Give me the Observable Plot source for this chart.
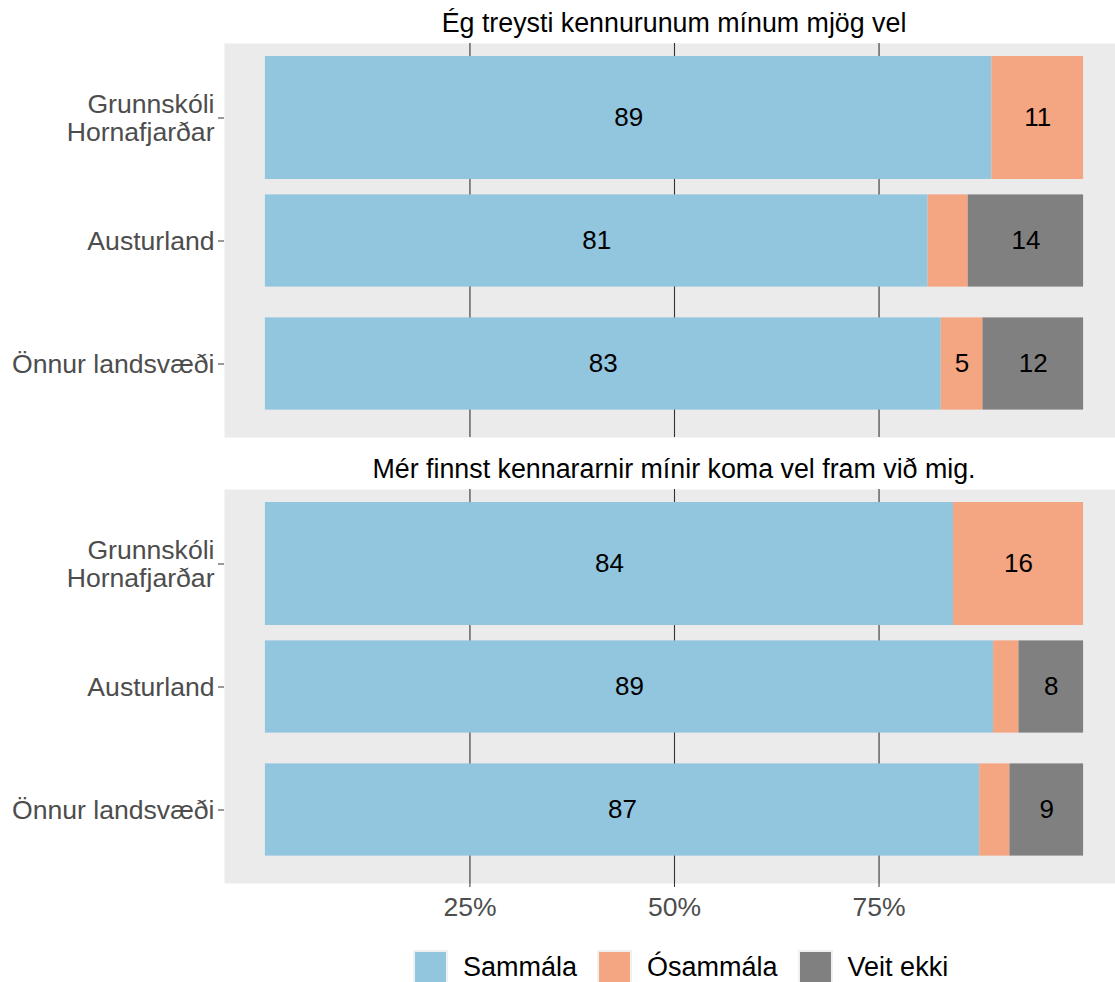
<!DOCTYPE html>
<html>
<head>
<meta charset="utf-8">
<script src="https://cdn.jsdelivr.net/npm/d3@7"></script>
<script src="https://cdn.jsdelivr.net/npm/@observablehq/plot@0.6"></script>
<style>
  html, body { margin: 0; padding: 0; background: #ffffff; }
  #wrap { position: relative; width: 1115px; height: 982px; overflow: hidden; font-family: "Liberation Sans", Arial, sans-serif; }
  #legend { position: absolute; left: 413px; top: 950px; display: flex; align-items: center; font-size: 27px; color: #000; }
  .key { width: 35px; height: 35px; box-sizing: border-box; border: 2px solid #F0F0F0; }
  .lab { margin-left: 15px; margin-right: 20px; white-space: nowrap; }
</style>
</head>
<body>
<div id="wrap"></div>
<script>
// Questions (facets)
const questions = [
  "Ég treysti kennurunum mínum mjög vel",
  "Mér finnst kennararnir mínir koma vel fram við mig."
];
// Groups (y categories)
const groups = ["Grunnskóli\nHornafjarðar", "Austurland", "Önnur landsvæði"];
// Answer categories
const categories = ["Sammála", "Ósammála", "Veit ekki"];
const colors = ["#92C5DE", "#F4A582", "#808080"];

// Percentages per question, per group (order of groups)
const q1Sammala  = [88.8, 81.0, 82.6];
const q1Osammala = [11.2,  4.9,  5.1];
const q1VeitEkki = [ 0.0, 14.1, 12.3];

const q2Sammala  = [84.1, 89.0, 87.3];
const q2Osammala = [15.9,  3.1,  3.7];
const q2VeitEkki = [ 0.0,  7.9,  9.0];

const xTicks = [25, 50, 75];
const labelThreshold = 5;

// Build tidy table
const series = [
  [q1Sammala, q1Osammala, q1VeitEkki],
  [q2Sammala, q2Osammala, q2VeitEkki]
];
const data = [];
questions.forEach((q, qi) => {
  groups.forEach((g, gi) => {
    categories.forEach((c, ci) => {
      data.push({question: q, group: g, category: c, value: series[qi][ci][gi]});
    });
  });
});

const wideGroup = groups[0];

const chart = Plot.plot({
  width: 1115,
  height: 930,
  marginLeft: 224,
  marginRight: 0,
  marginTop: 43,
  marginBottom: 47,
  style: {fontFamily: "'Liberation Sans', Arial, sans-serif", background: "#ffffff"},
  x: {domain: [-5, 103.9]},
  y: {domain: groups, paddingInner: 0, paddingOuter: 0.1},
  fy: {domain: questions, paddingInner: 0.1166, paddingOuter: 0, axis: null},
  color: {domain: categories, range: colors},
  marks: [
    Plot.frame({fill: "#EBEBEB", stroke: null}),
    Plot.gridX({ticks: xTicks, stroke: "#333333", strokeOpacity: 1, strokeWidth: 1.1}),
    Plot.barX(data, Plot.stackX({
      filter: d => d.group === wideGroup,
      x: "value", y: "group", fy: "question", fill: "category", z: "category",
      insetTop: 0, insetBottom: 0
    })),
    Plot.barX(data, Plot.stackX({
      filter: d => d.group !== wideGroup,
      x: "value", y: "group", fy: "question", fill: "category", z: "category",
      insetTop: 15.4, insetBottom: 15.4
    })),
    Plot.text(data, Plot.stackX({
      x: "value", y: "group", fy: "question", z: "category",
      text: d => d.value >= labelThreshold ? String(Math.round(d.value)) : "",
      fontSize: 26, fill: "#000000"
    })),
    Plot.text(questions, {
      fy: d => d, text: d => d, frameAnchor: "top", lineAnchor: "middle",
      dy: -20.5, dx: 4, fontSize: 26.8, fill: "#000000"
    }),
    Plot.axisY({
      tickSize: 6, tickPadding: 4, fontSize: 26.6, lineHeight: 1.06,
      fill: "#4D4D4D", stroke: "#333333", label: null
    }),
    Plot.axisX({
      ticks: xTicks, tickFormat: d => `${d}%`, tickSize: 4, tickPadding: 10,
      fontSize: 26.5, fill: "#4D4D4D", stroke: "#333333", label: null
    })
  ]
});

const wrap = document.getElementById("wrap");
wrap.appendChild(chart);

const legend = document.createElement("div");
legend.id = "legend";
categories.forEach((c, i) => {
  const k = document.createElement("div");
  k.className = "key";
  k.style.background = colors[i];
  const t = document.createElement("div");
  t.className = "lab";
  t.textContent = c;
  legend.appendChild(k);
  legend.appendChild(t);
});
wrap.appendChild(legend);
</script>
</body>
</html>
